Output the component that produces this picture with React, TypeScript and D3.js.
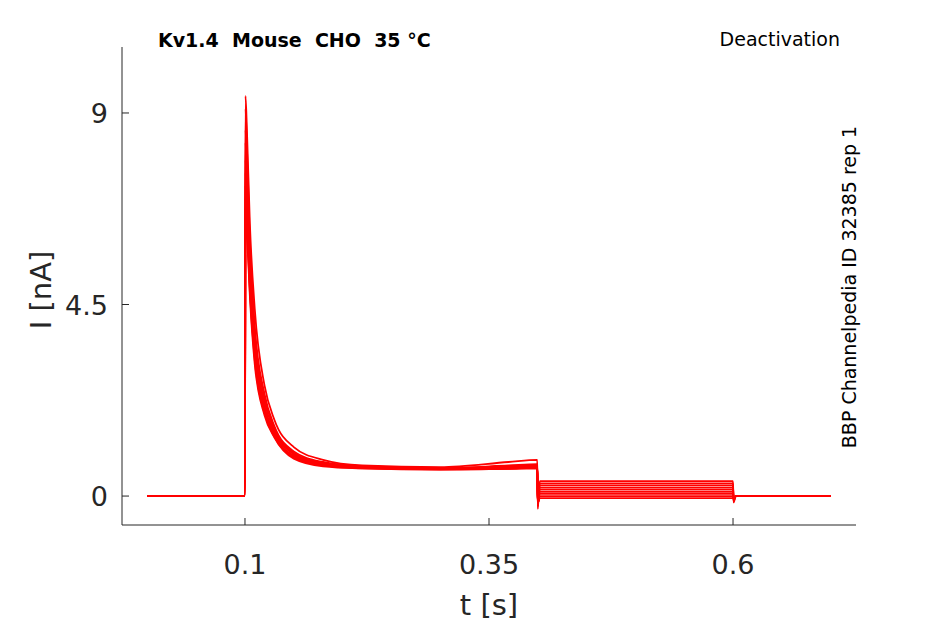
import * as d3 from "d3";

const times = [0, 0.0999, 0.1005, 0.102, 0.105, 0.11, 0.12, 0.13, 0.15, 0.18, 0.22, 0.3, 0.37, 0.3995, 0.4, 0.402, 0.6, 0.6005, 0.603, 0.7];

// one row per sweep, values in nA at the times above
const sweeps = [
  [0, 0, 9.4, 8.6, 6.4, 4.4, 2.6, 1.8, 1.15, 0.85, 0.72, 0.68, 0.8, 0.85, -0.3, 0.35, 0.35, -0.15, 0, 0],
  [0, 0, 9.1, 8.2, 6.0, 4.0, 2.4, 1.65, 1.05, 0.8, 0.7, 0.66, 0.72, 0.75, -0.25, 0.3, 0.3, -0.12, 0, 0],
  [0, 0, 8.6, 7.8, 5.7, 3.8, 2.3, 1.6, 1.02, 0.78, 0.7, 0.65, 0.7, 0.72, -0.22, 0.25, 0.25, -0.1, 0, 0],
  [0, 0, 8.3, 7.4, 5.4, 3.6, 2.2, 1.55, 1.0, 0.76, 0.68, 0.65, 0.68, 0.7, -0.2, 0.2, 0.2, -0.08, 0, 0],
  [0, 0, 7.9, 7.1, 5.2, 3.5, 2.1, 1.5, 0.98, 0.75, 0.68, 0.64, 0.67, 0.69, -0.2, 0.15, 0.15, -0.06, 0, 0],
  [0, 0, 7.6, 6.8, 5.0, 3.4, 2.05, 1.45, 0.95, 0.74, 0.67, 0.64, 0.66, 0.68, -0.18, 0.1, 0.1, -0.05, 0, 0],
  [0, 0, 7.3, 6.6, 4.9, 3.3, 2.0, 1.42, 0.93, 0.73, 0.66, 0.63, 0.65, 0.67, -0.16, 0.05, 0.05, -0.04, 0, 0],
  [0, 0, 7.0, 6.4, 4.8, 3.2, 1.95, 1.4, 0.9, 0.72, 0.65, 0.63, 0.64, 0.66, -0.15, 0.0, 0.0, -0.03, 0, 0],
  [0, 0, 6.8, 6.2, 4.7, 3.1, 1.9, 1.38, 0.88, 0.7, 0.65, 0.62, 0.64, 0.65, -0.15, -0.05, -0.05, -0.02, 0, 0],
];

const xTicks = [0.1, 0.35, 0.6];
const yTicks = [0, 4.5, 9];

export default function App() {
  const W = 945, H = 624;
  const x = d3.scaleLinear().domain([-0.026, 0.726]).range([122, 856]);
  const y = d3.scaleLinear().domain([-0.68, 10.55]).range([525, 47]);
  const line = d3.line<number>().x((_, i) => x(times[i])).y(d => y(d)).curve(d3.curveMonotoneX);
  const font = "DejaVu Sans, sans-serif";
  return (
    <svg width={W} height={H} style={{ position: "absolute", left: 0, top: 0 }} fontFamily={font}>
      <rect width={W} height={H} fill="#fff" />
      {sweeps.map((s, i) => (
        <path key={i} d={line(s) ?? ""} fill="none" stroke="#ff0000" strokeWidth={1.8} />
      ))}
      <line x1={122} x2={856} y1={525} y2={525} stroke="#262626" />
      <line x1={122} x2={122} y1={47} y2={525} stroke="#262626" />
      {xTicks.map(t => (
        <g key={t}>
          <line x1={x(t)} x2={x(t)} y1={525} y2={518} stroke="#262626" />
          <text x={x(t)} y={574} textAnchor="middle" fontSize={27} fill="#262626">{t}</text>
        </g>
      ))}
      {yTicks.map(t => (
        <g key={t}>
          <line x1={122} x2={129} y1={y(t)} y2={y(t)} stroke="#262626" />
          <text x={108} y={y(t) + 10} textAnchor="end" fontSize={27} fill="#262626">{t}</text>
        </g>
      ))}
      <text x={489} y={615} textAnchor="middle" fontSize={29} fill="#262626">t [s]</text>
      <text transform="translate(51,290) rotate(-90)" textAnchor="middle" fontSize={29} fill="#262626">I [nA]</text>
      <text x={158} y={47} fontSize={19} fontWeight="bold" style={{ whiteSpace: "pre" }}>Kv1.4  Mouse  CHO  35 °C</text>
      <text x={840} y={46} textAnchor="end" fontSize={19}>Deactivation</text>
      <text transform="translate(856,287) rotate(-90)" textAnchor="middle" fontSize={19}>BBP Channelpedia ID 32385 rep 1</text>
    </svg>
  );
}
